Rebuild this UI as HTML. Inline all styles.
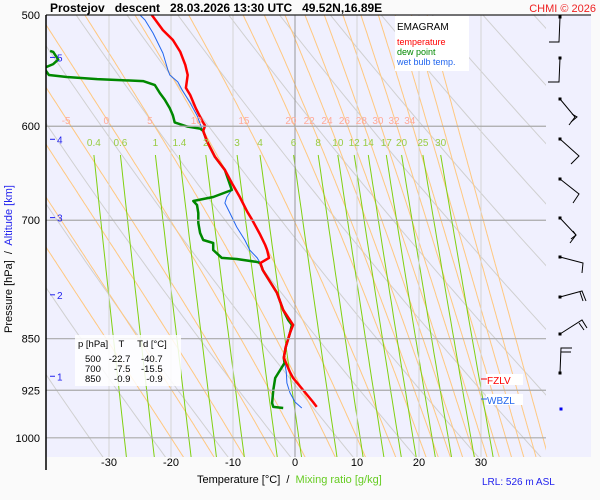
<!DOCTYPE html>
<html><head><meta charset="utf-8"><style>
body{margin:0;background:#fafafa;width:600px;height:500px;overflow:hidden;font-family:"Liberation Sans",sans-serif}
svg{display:block}
text{font-family:"Liberation Sans",sans-serif}
</style></head><body>
<svg id="chart" width="600" height="500" viewBox="0 0 600 500">
<rect x="0" y="0" width="600" height="500" fill="#fafafa"/>
<rect x="46" y="15" width="545" height="442" fill="#f0f0fe"/>
<defs><clipPath id="pc"><rect x="46" y="15" width="500" height="442"/></clipPath></defs>
<g id="grid" clip-path="url(#pc)"></g>
<g id="series" clip-path="url(#pc)"></g>
<g id="labels"></g>
<text x="50" y="12" font-size="12" font-weight="bold" fill="#000" xml:space="preserve">Prostejov   descent   28.03.2026 13:30 UTC   49.52N,16.89E</text>
<text x="596" y="12" font-size="11" fill="#ee2222" text-anchor="end">CHMI © 2026</text>
<line x1="46" y1="15" x2="591" y2="15" stroke="#000" stroke-width="1"/>
<line x1="46" y1="15" x2="46" y2="470" stroke="#000" stroke-width="1.5"/>
<g>
<rect x="395" y="16" width="74" height="55" fill="#fff"/>
<text x="397" y="30" font-size="10" fill="#000">EMAGRAM</text>
<text x="397" y="45" font-size="9" fill="#ff0000">temperature</text>
<text x="397" y="55" font-size="9" fill="#008800">dew point</text>
<text x="397" y="65" font-size="9" fill="#2266ee">wet bulb temp.</text>
</g>
<g>
<rect x="75" y="335" width="106" height="51" fill="#fff" opacity="0.85"/>
<text x="78" y="347" font-size="9.5" fill="#000" xml:space="preserve">p [hPa]    T     Td [°C]</text>
<text x="85" y="362" font-size="9.5" fill="#000" xml:space="preserve">500   -22.7    -40.7</text>
<text x="85" y="372" font-size="9.5" fill="#000" xml:space="preserve">700     -7.5    -15.5</text>
<text x="85" y="382" font-size="9.5" fill="#000" xml:space="preserve">850     -0.9      -0.9</text>
</g>
<g>
<rect x="486" y="374" width="37" height="11" fill="#fff"/>
<line x1="481" y1="379" x2="487" y2="379" stroke="#ff0000"/>
<text x="487" y="384" font-size="10" fill="#ff0000">FZLV</text>
</g>
<g>
<rect x="486" y="394" width="37" height="11" fill="#fff"/>
<line x1="481" y1="399" x2="487" y2="399" stroke="#2266ee"/>
<text x="487" y="404" font-size="10" fill="#2266ee">WBZL</text>
</g>
<g stroke="#000" stroke-width="1" fill="none">
<polyline points="560,17 559,42 549,42"/><rect x="558.5" y="15.5" width="3" height="3" fill="#000" stroke="none"/>
<polyline points="560,58 559,82 548,82"/><rect x="558.5" y="56.5" width="3" height="3" fill="#000" stroke="none"/>
<polyline points="560,99 575,117 569,125"/><polyline points="572,114 577,117 571,122"/><rect x="558.5" y="97.5" width="3" height="3" fill="#000" stroke="none"/>
<polyline points="560,139 579,156 571,164"/><rect x="558.5" y="137.5" width="3" height="3" fill="#000" stroke="none"/>
<polyline points="560,179 579,194 573,203"/><rect x="558.5" y="177.5" width="3" height="3" fill="#000" stroke="none"/>
<polyline points="560,218 576,235 570,243"/><polyline points="573,231 576,235 571,239"/><rect x="558.5" y="216.5" width="3" height="3" fill="#000" stroke="none"/>
<polyline points="560,257 583,263 582,273"/><rect x="558.5" y="255.5" width="3" height="3" fill="#000" stroke="none"/>
<polyline points="560,297 582,291 586,301"/><polyline points="580,292 583,301"/><rect x="558.5" y="295.5" width="3" height="3" fill="#000" stroke="none"/>
<polyline points="560,334 582,320 587,328"/><polyline points="579,323 584,330"/><rect x="558.5" y="332.5" width="3" height="3" fill="#000" stroke="none"/>
<polyline points="560,373 561,348 572,348"/><polyline points="561,352 571,352"/><rect x="558.5" y="371.5" width="3" height="3" fill="#000" stroke="none"/>
<rect x="559.5" y="407.5" width="3" height="3" fill="#0000ee" stroke="none"/>
</g>
<text x="197" y="483" font-size="11" fill="#000" xml:space="preserve">Temperature [°C]  /  <tspan fill="#66cc22">Mixing ratio [g/kg]</tspan></text>
<text x="482" y="485" font-size="10" fill="#2222ee">LRL: 526 m ASL</text>
<text transform="translate(12,333) rotate(-90)" font-size="11" fill="#000" xml:space="preserve">Pressure [hPa]  /  <tspan fill="#2222ee">Altitude [km]</tspan></text>
</svg>
<script>
// ---- data ----
const pressureTicks = [500, 600, 700, 850, 925, 1000];
const tempTicks = [-30, -20, -10, 0, 10, 20, 30];
const altitudeKm = [1, 2, 3, 4, 5];
const altitudePres = [904, 791, 697, 613, 536];
const tempP = [500,512.5,520.9,531.2,542.6,551.7,563.5,570.1,582.6,594.5,599.5,604.6,615,631,644.6,658.5,673.8,690.4,699.6,717,729,735,744.6,751,759.6,788.6,811,831,842,862,877,887.5,898,906.6,924.6,943,950.6];
const tempT = [-23.1,-21.3,-19.7,-18.5,-17.7,-17.3,-17.6,-16.9,-16.0,-15.0,-14.5,-14.8,-14.2,-12.9,-11.3,-10.2,-8.9,-7.7,-6.9,-5.6,-4.8,-4.5,-4.2,-5.6,-5.2,-2.9,-1.9,-0.3,-0.8,-1.5,-1.8,-1.3,-0.8,-0.3,1.3,2.9,3.5];
const dewP = [530.3,531.2,537.9,541.9,545.4,551.7,553.5,555.4,557.2,560.9,568.2,574.5,582.6,589.5,596.3,600.3,602.3,604.6,615,631,644.6,666.1,673.8,678.3,682.7,691.7,703,714.8,723,726.6,735,744.6,745.9,749.6,751,759.6,788.6,811,824.4,831,842,862,877,884.5,894.9,906.6,924.6,944.6,950.6,952.3];
const dewT = [-39.5,-39.0,-38.2,-39.0,-40.5,-39.7,-36.8,-31.9,-24.5,-22.6,-21.8,-21.0,-20.2,-19.7,-19.4,-17.4,-15.3,-14.8,-14.2,-12.9,-11.3,-10.2,-13.2,-16.4,-15.8,-15.6,-15.6,-15.3,-14.8,-13.2,-13.2,-11.8,-9.4,-6.1,-5.6,-5.2,-2.9,-1.9,-1.1,-0.5,-0.8,-1.5,-1.8,-1.7,-2.4,-3.2,-3.5,-3.7,-3.5,-1.9];
const wbP = [500,504.1,515,532.2,547.2,551.7,558,565.4,577.6,589.5,602.3,615,631,644.6,666.1,673.8,680.5,691.7,707.8,723,735,744.6,751,759.6,788.6,811,831,842,862,877,898,914,929,943,952.3];
const wbT = [-25.0,-24.2,-22.9,-21.3,-20.5,-20.2,-18.9,-18.2,-16.9,-15.8,-15.0,-14.2,-12.9,-11.3,-10.2,-11.0,-11.3,-10.5,-9.4,-8.1,-7.3,-6.1,-5.6,-5.2,-2.9,-1.9,-0.3,-0.8,-1.5,-1.8,-1.4,-1.3,-0.8,0.0,1.1];
const dryTheta = [240,250,260,270,280,290,300,310,320,330,340,350,360,370,380,390,400,410,420,430,440,450,460];
const moistThetaW = [-20,-15,-10,-5,0,5,10,15,20,22,24,26,28,30,32,34,36,38,40];
const moistLabels = [-5,0,5,10,15,20,22,24,26,28,30,32,34];
const mixRatios = [0.4,0.6,1,1.4,2,3,4,6,8,10,12,14,17,20,25,30];

// ---- axes ----
const X0 = 295, XS = 6.2, Y0 = 15, YS = 610;
function xT(t){ return X0 + t*XS; }
function yP(p){ return Y0 + YS*Math.log(p/500); }
const NS = 'http://www.w3.org/2000/svg';
function mk(tag, attrs, parent){ const e=document.createElementNS(NS,tag); for(const k in attrs) e.setAttribute(k,attrs[k]); parent.appendChild(e); return e; }
function path(pts){ return pts.map((q,i)=>(i?'L':'M')+q[0].toFixed(1)+','+q[1].toFixed(1)).join(''); }
function es(t){ return 6.112*Math.exp(17.67*t/(t+243.5)); }
function tFromE(e){ const l=Math.log(e/6.112); return 243.5*l/(17.67-l); }

const grid = document.getElementById('grid');
const series = document.getElementById('series');
const labels = document.getElementById('labels');

dryTheta.forEach(th=>{
  const pts=[]; for(let p=480;p<=1060;p+=10){ pts.push([xT(th*Math.pow(p/1000,0.286)-273.15), yP(p)]); }
  const el=mk('path',{d:path(pts),stroke:'#d0d0d0','stroke-width':1,fill:'none'},grid);
  
  
});
function moistPath(tw){
  const Rd=287.04,cp=1005.7,L=2.501e6,eps=0.622;
  function dTdp(p,T){ const e=es(T-273.15), rs=eps*e/(p-e);
    return (Rd*T+L*rs)/p/(cp+L*L*rs*eps/(Rd*T*T)); }
  const res={}; let T=tw+273.15;
  for(let p=1000;p>=480;p-=2){ res[p]=T; T-=2*dTdp(p,T); }
  T=tw+273.15; for(let p=1000;p<=1060;p+=2){ res[p]=T; T+=2*dTdp(p,T); }
  return res;
}
moistThetaW.forEach(tw=>{
  const r=moistPath(tw); const pts=[];
  for(let p=480;p<=1060;p+=2){ pts.push([xT(r[p]-273.15), yP(p)]); }
  const el=mk('path',{d:path(pts),stroke:'#ffc880','stroke-width':1,fill:'none'},grid);
  
  
  if(moistLabels.indexOf(tw)>=0){
    const t=mk('text',{x:xT(r[594]-273.15)-1,y:124,'font-size':10,fill:'#ffaa99','text-anchor':'middle'},labels);
    t.textContent=String(tw);
    
    
  }
});
mixRatios.forEach(w=>{
  const pts=[]; for(let p=629;p<=1040;p+=10){ pts.push([xT(tFromE(w*p/(622+w))), yP(p)]); }
  const el=mk('path',{d:path(pts),stroke:'#80d010','stroke-width':1,fill:'none'},grid);
  
  
  const t=mk('text',{x:xT(tFromE(w*629/(622+w))),y:146,'font-size':10,fill:'#99cc44','text-anchor':'middle'},labels);
  t.textContent=String(w);
  
  
});
tempTicks.forEach(t=>{
  const el=mk('line',{x1:xT(t),x2:xT(t),y1:15,y2:457,stroke:t===0?'#999':'#d4d4d4','stroke-width':1},grid);
  
  
  const lb=mk('text',{x:xT(t),y:466,'font-size':11,fill:'#000','text-anchor':'middle'},labels);
  lb.textContent=String(t);
  
  
});
pressureTicks.forEach(p=>{
  const el=mk('line',{x1:46,x2:546,y1:yP(p),y2:yP(p),stroke:'#aaa','stroke-width':1.2},labels);
  
  
  const lb=mk('text',{x:40,y:yP(p)+4,'font-size':11,fill:'#000','text-anchor':'end'},labels);
  lb.textContent=String(p);
  
  
});
altitudeKm.forEach((k,i)=>{
  const y=yP(altitudePres[i]);
  const el=mk('line',{x1:50,x2:55,y1:y,y2:y,stroke:'#2222ee','stroke-width':1},labels);
  
  
  const lb=mk('text',{x:57,y:y+4,'font-size':10,fill:'#2222ee'},labels);
  lb.textContent=String(k);
  
  
});
function drawSeries(P,T,color,w,name){
  const pts=P.map((p,i)=>[xT(T[i]),yP(p)]);
  const el=mk('path',{d:path(pts),stroke:color,'stroke-width':w,fill:'none','stroke-linejoin':'round'},series);
  
  
}
drawSeries(wbP,wbT,'#2266ee',1,'wet-bulb-line');
drawSeries(dewP,dewT,'#008800',2.5,'dew-point-line');
drawSeries(tempP,tempT,'#ff0000',2.5,'temperature-line');
</script>
</body></html>
